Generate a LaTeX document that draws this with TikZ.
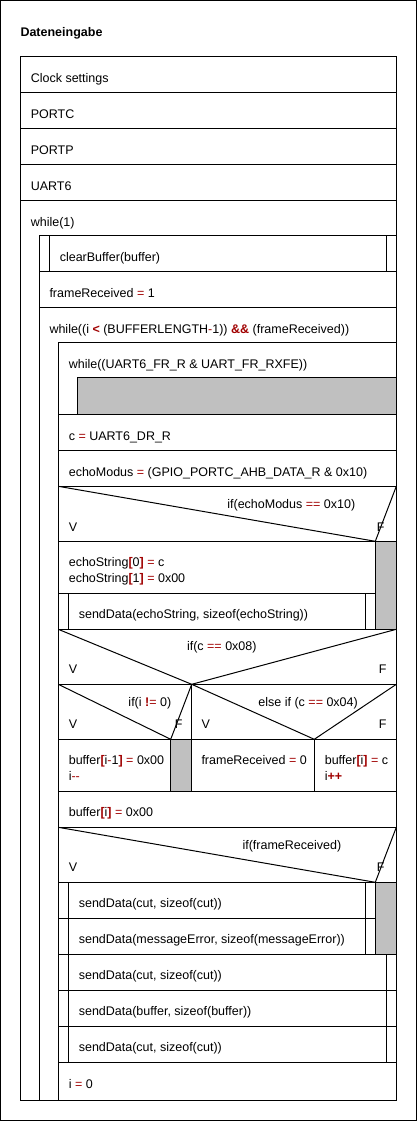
\documentclass[tikz,border=0pt]{standalone}
\usepackage{fontspec}
\setmainfont{Liberation Sans}
\usepackage{tikz}
\definecolor{opred}{RGB}{160,0,0}
\definecolor{blockgray}{RGB}{192,192,192}
\newcommand{\opc}[1]{\textcolor{opred}{#1}}
\newcommand{\opb}[1]{\textcolor{opred}{\textbf{#1}}}

\begin{document}
\begin{tikzpicture}[x=1pt, y=-1pt, line width=1pt,
    txt/.style={anchor=base west, inner sep=0pt, font=\fontsize{12.5}{15}\selectfont},
    rtxt/.style={txt, anchor=base east},
    ctxt/.style={txt, anchor=base}]
    \useasboundingbox (0,0) rectangle (417,1121);

    % Draw the outer frame and the title
    \draw (0.5,0.5) rectangle (416.5,1120.5);
    \node[txt, font=\fontsize{12.5}{15}\selectfont\bfseries] (title) at (20,36.3) {Dateneingabe};

    % Main block with the setup rows
    \draw (20.5,56.7) rectangle (396.3,1100);
    \foreach \y in {92.3, 128.3, 164.3, 200.3} {
        \draw (20.5,\y) -- (396.3,\y);
    }
    \node[txt] (clock) at (30.3,82.3) {Clock settings};
    \node[txt] (portc) at (30.3,118.3) {PORTC};
    \node[txt] (portp) at (30.3,154.3) {PORTP};
    \node[txt] (uart) at (30.3,190.3) {UART6};

    % while(1)
    \node[txt] (loopa) at (30.3,226.3) {while(1)};
    \draw (39.3,1100) -- (39.3,235.3) -- (396.3,235.3);
    \draw (49.3,235.3) -- (49.3,271);
    \draw (386.3,235.3) -- (386.3,271);
    \node[txt] (clear) at (59.3,261) {clearBuffer(buffer)};
    \draw (39.3,271) -- (396.3,271);
    \node[txt] (frameset) at (49,297.3) {frameReceived \opc{=} 1};
    \draw (39.3,307.3) -- (396.3,307.3);

    % while((i < ...)) loop
    \node[txt] (loopb) at (49,333.3) {while((i \opb{<} (BUFFERLENGTH\opc{-}1)) \opb{\&\&} (frameReceived))};
    \draw (58.3,1100) -- (58.3,342.3) -- (396.3,342.3);

    % Waiting loop with empty body
    \node[txt] (loopc) at (68.3,368.3) {while((UART6\_FR\_R \& UART\_FR\_RXFE))};
    \draw[fill=blockgray] (77.3,377.3) rectangle (396.3,414.3);
    \draw (58.3,414.3) -- (396.3,414.3);
    \node[txt] (readc) at (68.3,440.7) {c \opc{=} UART6\_DR\_R};
    \draw (58.3,450.3) -- (396.3,450.3);
    \node[txt] (echomode) at (68.3,476.7) {echoModus \opc{=} (GPIO\_PORTC\_AHB\_DATA\_R \& 0x10)};
    \draw (58.3,486.3) -- (396.3,486.3);

    % if(echoModus == 0x10)
    \draw (58.3,486.3) -- (375.3,541.3) -- (396.3,486.3);
    \node[rtxt] (ifecho) at (355.7,508.3) {if(echoModus \opc{==} 0x10)};
    \node[txt] (ifechov) at (68.3,531) {V};
    \node[txt] (ifechof) at (376.3,531) {F};
    \draw (58.3,541.3) -- (375.3,541.3);
    \draw[fill=blockgray] (375.3,541.3) rectangle (396.3,629.3);
    \node[txt] (echoa) at (68.3,566.7) {echoString\opb{[}0\opb{]} \opc{=} c};
    \node[txt] (echob) at (68.3,582) {echoString\opb{[}1\opb{]} \opc{=} 0x00};
    \draw (58.3,593.3) -- (375.3,593.3);
    \draw (68.3,593.3) -- (68.3,629.3);
    \draw (365.7,593.3) -- (365.7,629.3);
    \node[txt] (sendecho) at (78.3,618.3) {sendData(echoString, sizeof(echoString))};
    \draw (58.3,629.3) -- (396.3,629.3);

    % if(c == 0x08)
    \draw (58.3,629.3) -- (191.7,684.3) -- (396.3,629.3);
    \node[ctxt] (ifback) at (221.8,650.3) {if(c \opc{==} 0x08)};
    \node[txt] (ifbackv) at (68.3,673.7) {V};
    \node[txt] (ifbackf) at (378.3,673.7) {F};
    \draw (58.3,684.3) -- (396.3,684.3);
    \draw (191.7,684.3) -- (191.7,791);

    % if(i != 0)
    \draw (58.3,684.3) -- (170.7,739.3) -- (191.7,684.3);
    \node[rtxt] (ifzero) at (171.7,706.3) {if(i \opb{!}\opc{=} 0)};
    \node[txt] (ifzerov) at (68.3,728.7) {V};
    \node[txt] (ifzerof) at (174.3,728.7) {F};
    \draw (58.3,739.3) -- (191.7,739.3);
    \draw[fill=blockgray] (170.7,739.3) rectangle (191.7,791);
    \node[txt] (clra) at (68.3,764.5) {buffer\opb{[}i\opc{-}1\opb{]} \opc{=} 0x00};
    \node[txt] (clrb) at (68.3,780.3) {i\opc{-{}-}};

    % else if (c == 0x04)
    \draw (191.7,684.3) -- (314.3,739.3) -- (396.3,684.3);
    \node[rtxt] (ifend) at (358.3,706.3) {else if (c \opc{==} 0x04)};
    \node[txt] (ifendv) at (201,728.7) {V};
    \node[txt] (ifendf) at (378.3,728.7) {F};
    \draw (191.7,739.3) -- (396.3,739.3);
    \draw (314.3,739.3) -- (314.3,791);
    \node[txt] (frameclr) at (201,764.5) {frameReceived \opc{=} 0};
    \node[txt] (storea) at (324.3,764.5) {buffer\opb{[}i\opb{]} \opc{=} c};
    \node[txt] (storeb) at (324.3,780.3) {i\opb{++}};
    \draw (58.3,791) -- (396.3,791);

    % Terminate the buffer
    \node[txt] (term) at (68.3,816.7) {buffer\opb{[}i\opb{]} \opc{=} 0x00};
    \draw (58.3,827.3) -- (396.3,827.3);

    % if(frameReceived)
    \draw (58.3,827.3) -- (375.3,882.3) -- (396.3,827.3);
    \node[rtxt] (ifframe) at (341.7,849.3) {if(frameReceived)};
    \node[txt] (ifframev) at (68.3,871.7) {V};
    \node[txt] (ifframef) at (376.3,871.7) {F};
    \draw (58.3,882.3) -- (375.3,882.3);
    \draw[fill=blockgray] (375.3,882.3) rectangle (396.3,954);
    \draw (58.3,918.3) -- (375.3,918.3);
    \draw (68.3,882.3) -- (68.3,954);
    \draw (365.7,882.3) -- (365.7,954);
    \node[txt] (senda) at (78.3,907.8) {sendData(cut, sizeof(cut))};
    \node[txt] (senderr) at (78.3,943.8) {sendData(messageError, sizeof(messageError))};
    \draw (58.3,954) -- (396.3,954);

    % Send the received frame
    \foreach \y in {990.3, 1026.3, 1062.3} {
        \draw (58.3,\y) -- (396.3,\y);
    }
    \draw (68.3,954) -- (68.3,1062.3);
    \draw (386.3,954) -- (386.3,1062.3);
    \node[txt] (sendb) at (78.3,979.8) {sendData(cut, sizeof(cut))};
    \node[txt] (sendbuf) at (78.3,1015.8) {sendData(buffer, sizeof(buffer))};
    \node[txt] (sendc) at (78.3,1051.8) {sendData(cut, sizeof(cut))};
    \node[txt] (reset) at (68.3,1088.3) {i \opc{=} 0};
\end{tikzpicture}
\end{document}
